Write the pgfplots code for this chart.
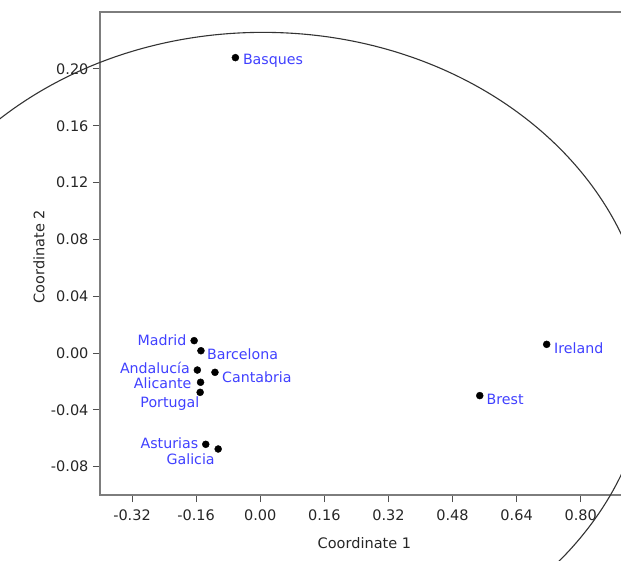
\documentclass[border=0pt]{standalone}
\usepackage{pgfplots}
\pgfplotsset{compat=1.18}
\usepackage{fontspec}
\setmainfont{DejaVu Sans}
\definecolor{lblblue}{RGB}{64,64,255}
\definecolor{axgray}{RGB}{125,125,125}
\definecolor{tickgray}{RGB}{80,80,80}
\begin{document}
\begin{tikzpicture}[x=1pt,y=1pt]
\useasboundingbox (0,0) rectangle (621,560);
\clip (0,0) rectangle (621,560);
\begin{axis}[
  at={(100pt,65pt)}, anchor=south west,
  scale only axis, width=528.8pt, height=482.8pt,
  xmin=-0.4, xmax=0.92, ymin=-0.1, ymax=0.24,
  clip=false,
  axis line style={axgray, line width=2pt},
  tick pos=left, tick align=outside,
  major tick length=7pt,
  tick style={tickgray, line width=1pt},
  xtick={-0.32,-0.16,0,0.16,0.32,0.48,0.64,0.80},
  ytick={-0.08,-0.04,0,0.04,0.08,0.12,0.16,0.20},
  /pgf/number format/.cd, fixed, fixed zerofill, precision=2, assume math mode=true,
  /pgfplots/.cd,
  ticklabel style={font=\fontsize{14.5}{17}\selectfont, text=black!85},
  yticklabel style={xshift=-1pt},
  xticklabel style={yshift=-4pt},
  xlabel={Coordinate 1}, ylabel={Coordinate 2},
  every axis x label/.style={at={(axis description cs:0.5,0)}, anchor=center, yshift=-48pt, font=\fontsize{14.5}{17}\selectfont, text=black!85},
  every axis y label/.style={at={(axis description cs:0,0.494)}, anchor=center, rotate=90, yshift=61pt, font=\fontsize{14.5}{17}\selectfont, text=black!85},
  pt/.style n args={3}{only marks, mark=*, mark size=3.5pt, black,
    point meta=explicit symbolic, nodes near coords,
    every node near coord/.append style={anchor=#1, xshift=#2pt, yshift=#3pt, inner sep=0pt, text=lblblue, font=\fontsize{14.2}{17}\selectfont}},
]
\draw[black!80, line width=1.1pt] (axis cs:0.007,-0.001) ellipse [x radius=0.9636, y radius=0.2268];
\addplot[pt={west}{7.4}{-3}] coordinates {(-0.062,0.208) [Basques]};
\addplot[pt={east}{-7.6}{0}] coordinates {(-0.165,0.0087) [Madrid]};
\addplot[pt={west}{6}{-3.3}] coordinates {(-0.148,0.0016) [Barcelona]};
\addplot[pt={east}{-7.3}{2}] coordinates {(-0.157,-0.012) [Andalucía]};
\addplot[pt={west}{7}{-4.7}] coordinates {(-0.113,-0.0136) [Cantabria]};
\addplot[pt={east}{-9}{-1}] coordinates {(-0.149,-0.0206) [Alicante]};
\addplot[pt={north east}{-0.7}{-4.2}] coordinates {(-0.150,-0.0277) [Portugal]};
\addplot[pt={east}{-7.4}{1}] coordinates {(-0.136,-0.0643) [Asturias]};
\addplot[pt={north east}{-3.3}{-4.3}] coordinates {(-0.105,-0.0676) [Galicia]};
\addplot[pt={west}{7.3}{-3.7}] coordinates {(0.715,0.0061) [Ireland]};
\addplot[pt={west}{6.7}{-4.3}] coordinates {(0.548,-0.030) [Brest]};
\end{axis}
\end{tikzpicture}
\end{document}
